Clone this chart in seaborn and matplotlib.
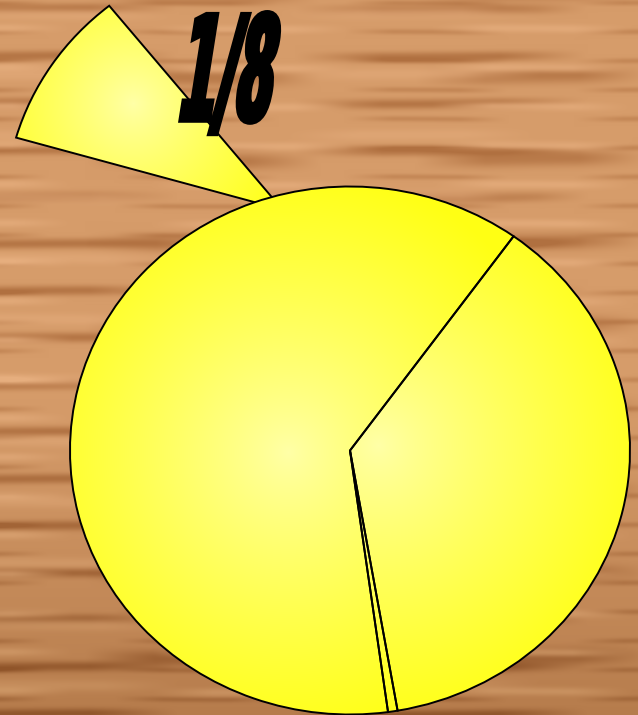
import numpy as np
import matplotlib
matplotlib.use("Agg")
import matplotlib.pyplot as plt
import seaborn as sns
from matplotlib.patheffects import AbstractPathEffect
from matplotlib.transforms import Affine2D
from matplotlib.colors import to_rgb

sns.set_theme(style="white")
plt.rcParams["font.family"] = ["DejaVu Sans"]

# ---- data ----
slice_labels = ["A", "B", "C"]
slice_values = [62.1, 0.55, 37.35]
start_angle = 54.25
highlight_label = "1/8"
highlight_fraction = [0.098]
highlight_start = 128.7

# ---- figure ----
W, H = 638, 715
fig = plt.figure(figsize=(W / 100, H / 100), dpi=100)
ax = fig.add_axes([0, 0, 1, 1])

CX, CY, RX, RY = 350.0, 450.5, 280.0, 264.0
xlim = (-CX / RX, (W - CX) / RX)
ylim = ((CY - H) / RY, CY / RY)
extent = (xlim[0], xlim[1], ylim[0], ylim[1])

yy, xx = np.mgrid[0:H, 0:W].astype(float)

# ---- wood background (decorative texture) ----
def streak(period, phase, xmod, xper, xphase, sharp):
    s = np.sin(2 * np.pi * yy / period + phase
               + xmod * np.sin(2 * np.pi * xx / xper + xphase))
    return np.clip(s, 0, 1) ** sharp


def fade(per, ph):
    return np.clip(0.5 + 0.8 * np.sin(2 * np.pi * xx / per + ph), 0, 1)


dark_s = (0.85 * streak(47, 0.4, 0.12, 520, 0.3, 4) * fade(410, 1.1)
          + 0.75 * streak(83, 2.1, 0.15, 700, 2.0, 5) * fade(330, 4.0)
          + 0.45 * streak(29, 1.0, 0.10, 300, 0.0, 5) * fade(230, 2.5))
light_s = (0.7 * streak(39, 3.3, 0.12, 460, 1.5, 4) * fade(280, 2.2)
           + 0.5 * streak(61, 0.2, 0.12, 610, 3.0, 5) * fade(360, 0.7))
dark_s = np.clip(dark_s, 0, 1)
light_s = np.clip(light_s, 0, 1)

depth = np.clip((yy - 380) / 335.0, 0, 1) ** 1.2
mid = (np.array(to_rgb("#D69C6A")) * (1 - depth[..., None])
       + np.array(to_rgb("#B67C4C")) * depth[..., None])
darkc = (np.array(to_rgb("#B07040")) * (1 - depth[..., None])
         + np.array(to_rgb("#8A5026")) * depth[..., None])
lightc = (np.array(to_rgb("#E6AE7E")) * (1 - depth[..., None])
          + np.array(to_rgb("#CC9664")) * depth[..., None])
bg = mid * (1 - dark_s[..., None]) + darkc * dark_s[..., None]
bg = bg * (1 - light_s[..., None]) + lightc * light_s[..., None]
ax.imshow(bg, extent=extent, origin="upper", aspect="auto", zorder=0,
          interpolation="bilinear")

# ---- pies ----
edge_kw = dict(facecolor="none", edgecolor="black", linewidth=1.4)
hw, _ = ax.pie(highlight_fraction, normalize=False, startangle=highlight_start,
               center=(-0.241, 0.912), radius=0.99, wedgeprops=edge_kw)
mw, _ = ax.pie(slice_values, startangle=start_angle, counterclock=True,
               radius=1.0, wedgeprops=edge_kw)

c_light = np.array(to_rgb("#FFFFA8"))
c_edge = np.array(to_rgb("#FFFF14"))


def gradient(cpx, cpy, rad):
    d = np.hypot(xx - cpx, yy - cpy) / rad
    t = np.clip(d, 0, 1)[..., None] ** 0.85
    return c_light * (1 - t) + c_edge * t


grad_specs = [(288, 452, 290), (378, 445, 285), (378, 445, 285)]
for w, (gx, gy, gr) in zip(mw, grad_specs):
    im = ax.imshow(gradient(gx, gy, gr), extent=extent, origin="upper",
                   aspect="auto", zorder=2, interpolation="bilinear")
    im.set_clip_path(w)
    w.set_zorder(3)

for w in hw:
    im = ax.imshow(gradient(133, 103, 180), extent=extent, origin="upper",
                   aspect="auto", zorder=0.6, interpolation="bilinear")
    im.set_clip_path(w)
    w.set_zorder(1)

ax.set_aspect("auto")
ax.set_xlim(*xlim)
ax.set_ylim(*ylim)
ax.axis("off")


# ---- condensed heavy title ----
class Condense(AbstractPathEffect):
    def __init__(self, sx, skew, stroke):
        super().__init__()
        self.sx, self.skew, self.stroke = sx, skew, stroke

    def draw_path(self, renderer, gc, tpath, affine, rgbFace=None):
        t = Affine2D().scale(self.sx, 1.0).skew_deg(self.skew, 0) + affine
        gc0 = renderer.new_gc()
        gc0.copy_properties(gc)
        gc0.set_linewidth(self.stroke)
        gc0.set_foreground("black")
        gc0.set_joinstyle("miter")
        renderer.draw_path(gc0, tpath, t, rgbFace)
        gc0.restore()


fig.text(175 / W, 1 - 120 / H, highlight_label, fontsize=104,
         fontweight="bold", color="black", ha="left", va="baseline",
         path_effects=[Condense(0.37, 9, 4.0)])

fig.savefig("out.png", dpi=100)
